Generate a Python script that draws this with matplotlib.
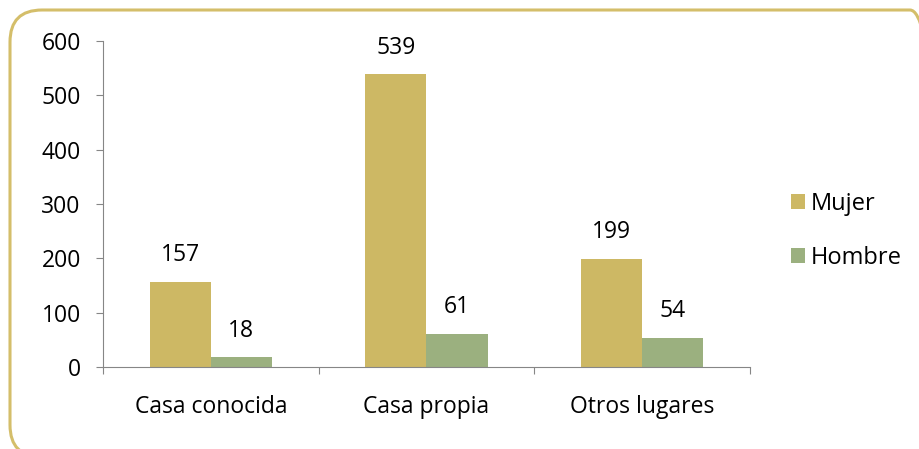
import numpy as np
import matplotlib.pyplot as plt
from matplotlib.patches import FancyBboxPatch

plt.rcParams['font.family'] = ['Open Sans', 'DejaVu Sans']

categories = ['Casa conocida', 'Casa propia', 'Otros lugares']
mujer = [157, 539, 199]
hombre = [18, 61, 54]

c_mujer = '#CDB864'
c_hombre = '#9BB07F'
axis_gray = '#868686'
fs = 16.5

W, H = 919, 449
fig = plt.figure(figsize=(W/100, H/100), dpi=100)
ax = fig.add_axes([103/W, 1 - 367/H, (750 - 103)/W, (367 - 41)/H])

# rounded border; corners only partly inside the picture at the right/bottom
border = FancyBboxPatch((10/W, -8/H), 932/W, 447/H,
                        boxstyle='round,pad=0,rounding_size=%f' % (32/W),
                        mutation_aspect=W/H,
                        transform=fig.transFigure, fill=False,
                        edgecolor='#D4BE6A', linewidth=2.2, clip_on=False)
fig.patches.append(border)

x = np.arange(len(categories))
w = 0.283
b1 = ax.bar(x - w/2, mujer, w, color=c_mujer, label='Mujer')
b2 = ax.bar(x + w/2, hombre, w, color=c_hombre, label='Hombre')

for rects, vals in ((b1, mujer), (b2, hombre)):
    for r, v in zip(rects, vals):
        ax.annotate(str(v), (r.get_x() + r.get_width()/2, v),
                    xytext=(0, 19), textcoords='offset points',
                    ha='center', va='center', fontsize=fs)

ax.set_xlim(-0.5, 2.5)
ax.set_ylim(0, 600)
ax.set_yticks(range(0, 601, 100))
ax.set_xticks([-0.5, 0.5, 1.5, 2.5], minor=False)
ax.set_xticklabels([])
ax.set_xticks(x, minor=True)
ax.set_xticklabels(categories, minor=True, fontsize=fs)
ax.tick_params(axis='x', which='minor', length=0, pad=20)
ax.tick_params(axis='x', which='major', length=5, color=axis_gray, direction='out')
ax.tick_params(axis='y', length=5, color=axis_gray, labelsize=fs, pad=11)

for s in ['top', 'right']:
    ax.spines[s].set_visible(False)
ax.spines['left'].set_color(axis_gray)
ax.spines['bottom'].set_color(axis_gray)

ax.legend(loc='center left', bbox_to_anchor=(1.063, 0.417), frameon=False,
          fontsize=17, handlelength=0.6, handleheight=0.6, labelspacing=1.25,
          handletextpad=0.25, borderaxespad=0, borderpad=0)

fig.savefig('out.png', dpi=100)
